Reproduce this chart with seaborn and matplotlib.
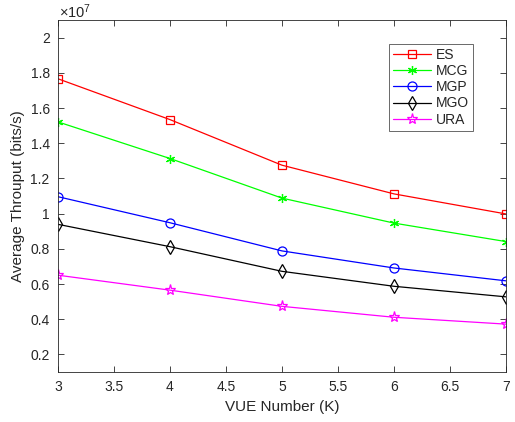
import matplotlib
matplotlib.use("Agg")
import matplotlib.pyplot as plt
import seaborn as sns
import pandas as pd
from matplotlib.ticker import FuncFormatter, MultipleLocator

K = [3, 4, 5, 6, 7]
ES = [1.766e7, 1.534e7, 1.275e7, 1.112e7, 0.998e7]
MCG = [1.521e7, 1.313e7, 1.088e7, 0.946e7, 0.841e7]
MGP = [1.096e7, 0.948e7, 0.788e7, 0.691e7, 0.618e7]
MGO = [0.939e7, 0.812e7, 0.672e7, 0.587e7, 0.527e7]
URA = [0.650e7, 0.565e7, 0.473e7, 0.411e7, 0.372e7]
names = ["ES", "MCG", "MGP", "MGO", "URA"]
series = [ES, MCG, MGP, MGO, URA]

sns.set_theme(style="white")
plt.rcParams['font.family'] = ['Liberation Sans', 'DejaVu Sans']
plt.rcParams['mathtext.fontset'] = 'custom'
plt.rcParams['mathtext.rm'] = 'Liberation Sans'
plt.rcParams['mathtext.it'] = 'Liberation Sans'

rows = []
for n, s in zip(names, series):
    for k, v in zip(K, s):
        rows.append({"K": k, "val": v, "method": n})
df = pd.DataFrame(rows)

colors = {"ES": "#FF0000", "MCG": "#00FF00", "MGP": "#0000FF", "MGO": "#000000", "URA": "#FF00FF"}
markers = {"ES": "s", "MCG": (6, 2, 0), "MGP": "o", "MGO": "d", "URA": "*"}
msizes = {"ES": 5.5, "MCG": 6.5, "MGP": 6.5, "MGO": 7.5, "URA": 8}

fig = plt.figure(figsize=(5.15, 4.22), dpi=100)
ax = fig.add_axes([58/515, 50/422, 448/515, 352/422])

for n in names:
    sub = df[df.method == n]
    sns.lineplot(data=sub, x="K", y="val", ax=ax, color=colors[n], lw=0.9,
                 marker=markers[n], markersize=msizes[n], markerfacecolor="none",
                 markeredgecolor=colors[n], markeredgewidth=0.9, label=n)

ax.set_xlim(3, 7)
ax.set_ylim(0.1e7, 2.1e7)
ax.xaxis.set_major_locator(MultipleLocator(0.5))
ax.yaxis.set_major_locator(MultipleLocator(0.2e7))
ax.xaxis.set_major_formatter(FuncFormatter(lambda v, p: f"{v:g}"))
ax.yaxis.set_major_formatter(FuncFormatter(lambda v, p: f"{v/1e7:.1f}".rstrip('0').rstrip('.')))
ax.tick_params(direction="in", length=4, width=0.6, colors="#262626", labelsize=10,
               top=True, right=True, bottom=True, left=True, pad=6)
for sp in ax.spines.values():
    sp.set_color("#262626")
    sp.set_linewidth(0.6)
ax.set_xlabel("VUE Number (K)", fontsize=11, color="#262626")
ax.set_ylabel("Average Throuput (bits/s)", fontsize=11, color="#262626")
fig.text(59/515, 1 - 18/422, r"$\times\mathregular{10}^{\mathregular{7}}$", fontsize=10.5,
         color="#262626", ha="left", va="baseline")

leg = ax.legend(loc="upper right", bbox_to_anchor=(473/515, 1 - 44/422), bbox_transform=fig.transFigure,
                frameon=True, fancybox=False,
                edgecolor="#262626", fontsize=10, handlelength=2.7, borderpad=0.3,
                labelspacing=0.15, handletextpad=0.35, borderaxespad=0)
leg.get_frame().set_linewidth(0.6)

fig.savefig("out.png", dpi=100)
